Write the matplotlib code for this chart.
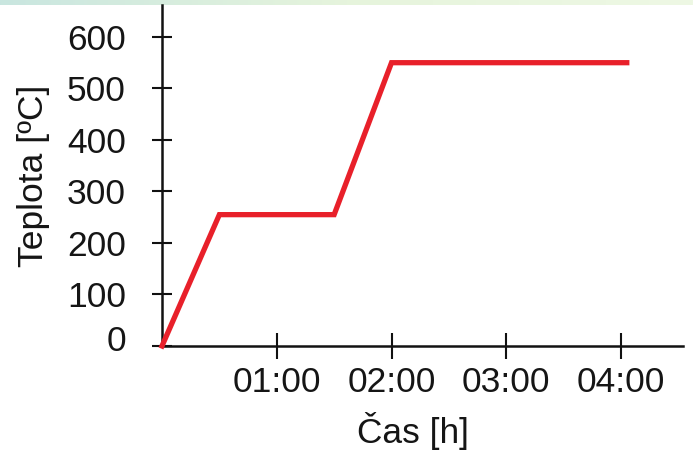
import matplotlib
matplotlib.use("Agg")
import matplotlib.pyplot as plt
import matplotlib.transforms as mtransforms
from matplotlib.colors import LinearSegmentedColormap
import numpy as np

hours = [0.0, 0.5, 1.5, 2.0, 4.05]
temps = [0, 255, 255, 550, 550]
x_ticks = [1, 2, 3, 4]
x_labels = ["01:00", "02:00", "03:00", "04:00"]
y_ticks = [0, 100, 200, 300, 400, 500, 600]

plt.rcParams["font.family"] = ["Liberation Sans", "DejaVu Sans"]
FS = 25.5
TXT = "#151515"

fig = plt.figure(figsize=(6.93, 4.72), dpi=100)
fig.patch.set_facecolor("white")

# thin gradient band at the top
band = fig.add_axes([0, 1 - 5 / 472, 1, 5 / 472])
grad = np.linspace(0, 1, 256).reshape(1, -1)
cm = LinearSegmentedColormap.from_list("g", ["#c9e6e0", "#e6f4dc", "#eef8e4"])
band.imshow(grad, aspect="auto", cmap=cm)
band.axis("off")

ax = fig.add_axes([162 / 693, 126 / 472, (683 - 162) / 693, (467 - 126) / 472])
ax.plot(hours, temps, color="#e8202a", lw=3.8, solid_joinstyle="miter",
        clip_on=False, zorder=3)
ax.set_xlim(0, 4.54)
ax.set_ylim(0, 662)
for s in ["top", "right"]:
    ax.spines[s].set_visible(False)
for s in ["left", "bottom"]:
    ax.spines[s].set_linewidth(1.8)
    ax.spines[s].set_color("#111111")
ax.set_xticks(x_ticks)
ax.set_xticklabels(x_labels)
ax.set_yticks(y_ticks)
ax.tick_params(axis="x", direction="inout", length=19, width=1.5,
               labelsize=FS, pad=5, colors="#111111", labelcolor=TXT)
ax.tick_params(axis="y", direction="inout", length=14, width=1.5,
               labelsize=FS, pad=19, colors="#111111", labelcolor=TXT)
ax.set_xlabel("Čas [h]", fontsize=FS, color=TXT)
ax.set_ylabel("Teplota [ºC]", fontsize=FS, color=TXT)
ax.xaxis.set_label_coords(0.482, -0.195)
ax.yaxis.set_label_coords(-0.215, 0.5)
ax.set_facecolor("white")

fig.canvas.draw()
lab0 = ax.get_yticklabels()[0]
lab0.set_transform(lab0.get_transform() +
                   mtransforms.ScaledTranslation(0, 8 / 100, fig.dpi_scale_trans))

fig.savefig("out.png", dpi=100)
